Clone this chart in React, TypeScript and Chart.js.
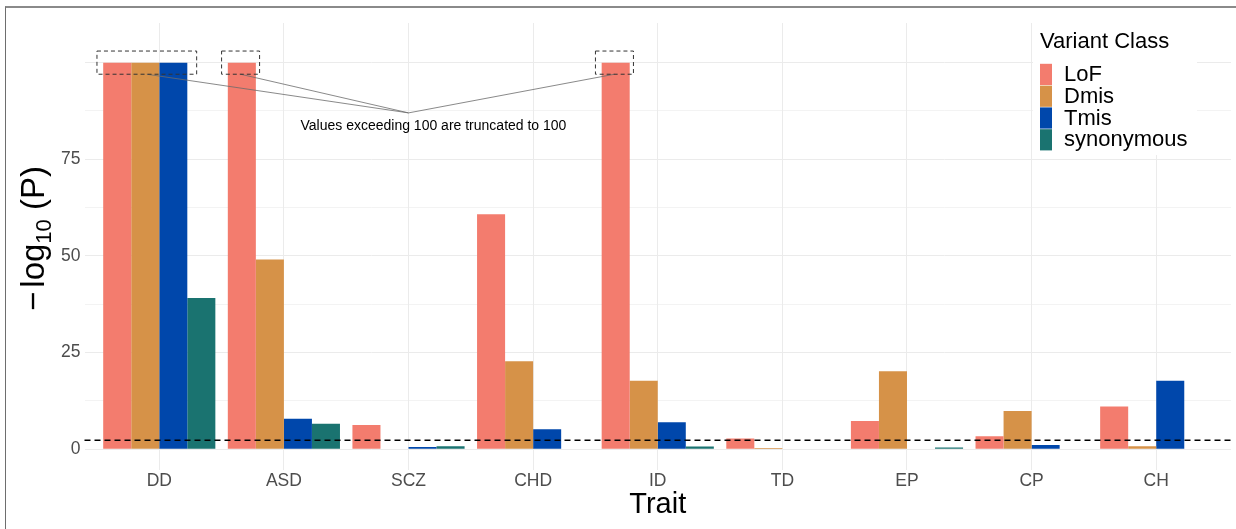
import React, { useEffect, useRef } from "react";
import { Chart, registerables } from "chart.js";

Chart.register(...registerables);

const FONT = "'Liberation Sans', Arial, Helvetica, sans-serif";

const categories = ["DD", "ASD", "SCZ", "CHD", "ID", "TD", "EP", "CP", "CH"];
const seriesNames = ["LoF", "Dmis", "Tmis", "synonymous"];
const seriesColors = ["#F37C6E", "#D69248", "#0047AB", "#1A7370"];

const lofValues = [100, 100, 6.3, 60.8, 100, 2.8, 7.3, 3.4, 11.1];
const dmisValues = [100, 49.1, null, 22.8, 17.7, 0.35, 20.2, 9.9, 0.8];
const tmisValues = [100, 7.9, 0.6, 5.2, 7.0, null, 0.15, 1.1, 17.7];
const synonymousValues = [39.1, 6.6, 0.8, 0.15, 0.7, null, 0.45, null, null];

const yTickValues = [0, 12.5, 25, 37.5, 50, 62.5, 75, 87.5, 100];
const yTickLabels = ["0", "", "25", "", "50", "", "75", "", ""];

const thresholdValue = 2.33;
const truncationNote = "Values exceeding 100 are truncated to 100";
const truncatedBoxStart = [-0.5, 0.5, 3.5];
const truncatedBoxEnd = [0.3, 0.805, 3.805];
const truncatedBoxLow = 97;
const truncatedBoxHigh = 103;
const noteAnchor = { x: 2, y: 87 };
const noteText = { x: 2.2, y: 83.6 };

const legendTitle = "Variant Class";
const xTitle = "Trait";

const allSeries = [lofValues, dmisValues, tmisValues, synonymousValues];

const annotationPlugin = {
  id: "annotations",
  afterDatasetsDraw(chart: any) {
    const { ctx, chartArea, scales } = chart;
    const x = scales.x;
    const y = scales.y;
    ctx.save();
    const ty = y.getPixelForValue(thresholdValue);
    ctx.strokeStyle = "#000000";
    ctx.lineWidth = 1.5;
    ctx.setLineDash([6, 4]);
    ctx.beginPath();
    ctx.moveTo(chartArea.left, ty);
    ctx.lineTo(chartArea.right, ty);
    ctx.stroke();

    ctx.setLineDash([]);
    ctx.strokeStyle = "#6b6b6b";
    ctx.lineWidth = 0.8;
    const ax = x.getPixelForValue(noteAnchor.x);
    const ay = y.getPixelForValue(noteAnchor.y);
    for (let i = 0; i < truncatedBoxStart.length; i++) {
      const cx = x.getPixelForValue((truncatedBoxStart[i] + truncatedBoxEnd[i]) / 2);
      const cy = y.getPixelForValue(truncatedBoxLow);
      ctx.beginPath();
      ctx.moveTo(cx, cy);
      ctx.lineTo(ax, ay);
      ctx.stroke();
    }

    ctx.strokeStyle = "#333333";
    ctx.lineWidth = 1;
    ctx.setLineDash([4, 3]);
    for (let i = 0; i < truncatedBoxStart.length; i++) {
      const x0 = x.getPixelForValue(truncatedBoxStart[i]);
      const x1 = x.getPixelForValue(truncatedBoxEnd[i]);
      const y0 = y.getPixelForValue(truncatedBoxHigh);
      const y1 = y.getPixelForValue(truncatedBoxLow);
      ctx.strokeRect(x0, y0, x1 - x0, y1 - y0);
    }
    ctx.setLineDash([]);

    ctx.fillStyle = "#000000";
    ctx.font = `14px ${FONT}`;
    ctx.textAlign = "center";
    ctx.textBaseline = "middle";
    ctx.fillText(truncationNote, x.getPixelForValue(noteText.x), y.getPixelForValue(noteText.y));
    ctx.restore();
  },
  afterDraw(chart: any) {
    const { ctx, chartArea } = chart;
    ctx.save();
    ctx.fillStyle = "#ffffff";
    ctx.fillRect(1033, 18, 164, 137);
    ctx.fillStyle = "#000000";
    ctx.font = `22px ${FONT}`;
    ctx.textAlign = "left";
    ctx.textBaseline = "middle";
    ctx.fillText(legendTitle, 1040, 42);
    const rowH = 21.8;
    const top0 = 63.5;
    for (let i = 0; i < seriesNames.length; i++) {
      ctx.fillStyle = seriesColors[i];
      ctx.fillRect(1040, top0 + i * rowH + 0.3, 12, rowH - 0.6);
      ctx.fillStyle = "#000000";
      ctx.fillText(seriesNames[i], 1064, top0 + i * rowH + rowH / 2 + 0.5);
    }

    ctx.textAlign = "center";
    ctx.font = `29px ${FONT}`;
    ctx.fillText(xTitle, (chartArea.left + chartArea.right) / 2, 505);

    ctx.translate(44, 238.5);
    ctx.rotate(-Math.PI / 2);
    ctx.textAlign = "left";
    ctx.textBaseline = "alphabetic";
    const sub = "10";
    const partB = " (P)";
    ctx.font = `33px ${FONT}`;
    const wMinus = ctx.measureText("\u2212").width;
    const wLog = ctx.measureText("log").width;
    const wB = ctx.measureText(partB).width;
    ctx.font = `22px ${FONT}`;
    const wS = ctx.measureText(sub).width;
    const gapMinus = 4;
    const total = wMinus + gapMinus + wLog + wS + wB;
    let cx = -total / 2;
    ctx.font = `33px ${FONT}`;
    ctx.fillText("\u2212", cx, 0);
    cx += wMinus + gapMinus;
    ctx.fillText("log", cx, 0);
    cx += wLog;
    ctx.font = `22px ${FONT}`;
    ctx.fillText(sub, cx, 7);
    cx += wS;
    ctx.font = `33px ${FONT}`;
    ctx.fillText(partB, cx, 0);
    ctx.restore();
  },
};

export default function App() {
  const canvasRef = useRef<HTMLCanvasElement | null>(null);

  useEffect(() => {
    const canvas = canvasRef.current;
    if (!canvas) return;
    const chart = new Chart(canvas, {
      type: "bar",
      data: {
        datasets: allSeries.map((values, si) => ({
          label: seriesNames[si],
          data: values.map((v, i) => ({ x: i, y: v })) as any,
          backgroundColor: seriesColors[si],
          borderWidth: 0,
          categoryPercentage: 0.9,
          barPercentage: 1.0,
        })),
      },
      options: {
        animation: false,
        responsive: false,
        maintainAspectRatio: false,
        layout: { padding: { left: 0, right: 5, top: 23, bottom: 0 } },
        plugins: {
          legend: { display: false },
          tooltip: { enabled: false },
          title: { display: false },
        },
        scales: {
          x: {
            type: "linear",
            offset: false,
            min: -0.6,
            max: 8.6,
            afterBuildTicks: (scale: any) => {
              scale.ticks = categories.map((_, i) => ({ value: i }));
            },
            afterFit: (scale: any) => {
              scale.height = 59.4;
            },
            ticks: {
              autoSkip: false,
              maxRotation: 0,
              minRotation: 0,
              padding: 1,
              color: "#4D4D4D",
              font: { family: FONT, size: 17.5 },
              callback: (value: any) => categories[Math.round(Number(value))] ?? "",
            },
            grid: { color: "#EBEBEB", lineWidth: 1, drawTicks: false, offset: false },
            border: { display: false },
          },
          y: {
            type: "linear",
            min: -5.25,
            max: 110.25,
            afterBuildTicks: (scale: any) => {
              scale.ticks = yTickValues.map((v) => ({ value: v }));
            },
            afterFit: (scale: any) => {
              scale.width = 84.5;
            },
            ticks: {
              padding: 4,
              color: "#4D4D4D",
              font: { family: FONT, size: 17.5 },
              callback: (_value: any, index: number) => yTickLabels[index] ?? "",
            },
            grid: {
              color: "#EBEBEB",
              lineWidth: (c: any) => (c.tick && c.tick.value % 25 === 0 ? 1 : 0.6),
              drawTicks: false,
            },
            border: { display: false },
          },
        },
      } as any,
      plugins: [annotationPlugin],
    });
    return () => chart.destroy();
  }, []);

  return (
    <div style={{ position: "fixed", left: 0, top: 0, width: 1236, height: 529, background: "#ffffff", overflow: "hidden" }}>
      <div
        style={{
          position: "absolute",
          left: 5,
          top: 6,
          width: 1300,
          height: 600,
          borderLeft: "1px solid #6e6e6e",
          borderTop: "2px solid #8a8a8a",
          boxSizing: "border-box",
          pointerEvents: "none",
          zIndex: 2,
        }}
      />
      <canvas ref={canvasRef} width={1236} height={529} style={{ display: "block", position: "absolute", left: 0, top: 0 }} />
    </div>
  );
}
